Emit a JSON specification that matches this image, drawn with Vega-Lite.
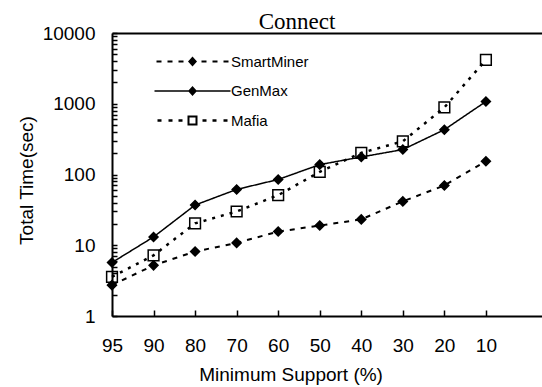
{
  "$schema": "https://vega.github.io/schema/vega-lite/v6.json",
  "width": 430,
  "height": 283,
  "autosize": {"type": "none"},
  "padding": {"left": 112, "top": 33, "right": 0, "bottom": 71},
  "title": {"text": "Connect", "font": "Liberation Serif", "fontSize": 23, "fontWeight": "normal", "color": "black", "frame": "group", "anchor": "middle", "baseline": "alphabetic", "offset": 7, "dx": -30, "dy": 35},
  "config": {
    "view": {"stroke": null},
    "font": "Liberation Sans",
    "axis": {"labelColor": "black", "titleColor": "black", "domainColor": "black", "tickColor": "black", "domainWidth": 2, "tickWidth": 1.5, "titleFontWeight": "normal"},
    "legend": {"orient": "none", "legendX": 35, "legendY": 21, "labelFontSize": 15, "labelColor": "black", "labelFont": "Liberation Sans", "symbolSize": 100, "labelOffset": 69, "rowPadding": 13.5, "title": null, "symbolOpacity": 1, "symbolFillColor": "black", "symbolStrokeWidth": 0}
  },
  "data": {"values": [
    {"support": 95, "series": "SmartMiner", "time": 2.73},
    {"support": 90, "series": "SmartMiner", "time": 5.2},
    {"support": 80, "series": "SmartMiner", "time": 8.15},
    {"support": 70, "series": "SmartMiner", "time": 10.8},
    {"support": 60, "series": "SmartMiner", "time": 15.6},
    {"support": 50, "series": "SmartMiner", "time": 19},
    {"support": 40, "series": "SmartMiner", "time": 23.2},
    {"support": 30, "series": "SmartMiner", "time": 41.7},
    {"support": 20, "series": "SmartMiner", "time": 70},
    {"support": 10, "series": "SmartMiner", "time": 154},
    {"support": 95, "series": "GenMax", "time": 5.7},
    {"support": 90, "series": "GenMax", "time": 13.1},
    {"support": 80, "series": "GenMax", "time": 37},
    {"support": 70, "series": "GenMax", "time": 61.5},
    {"support": 60, "series": "GenMax", "time": 85},
    {"support": 50, "series": "GenMax", "time": 138},
    {"support": 40, "series": "GenMax", "time": 177},
    {"support": 30, "series": "GenMax", "time": 225},
    {"support": 20, "series": "GenMax", "time": 430},
    {"support": 10, "series": "GenMax", "time": 1075},
    {"support": 95, "series": "Mafia", "time": 3.58},
    {"support": 90, "series": "Mafia", "time": 7.2},
    {"support": 80, "series": "Mafia", "time": 20.4},
    {"support": 70, "series": "Mafia", "time": 30},
    {"support": 60, "series": "Mafia", "time": 51},
    {"support": 50, "series": "Mafia", "time": 109},
    {"support": 40, "series": "Mafia", "time": 202},
    {"support": 30, "series": "Mafia", "time": 294},
    {"support": 20, "series": "Mafia", "time": 887},
    {"support": 10, "series": "Mafia", "time": 4170}
  ]},
  "encoding": {
    "x": {
      "field": "support", "type": "ordinal",
      "scale": {"type": "point", "domain": [95, 90, 80, 70, 60, 50, 40, 30, 20, 10], "padding": 0.675, "align": 0},
      "axis": {"title": "Minimum Support (%)", "labelAngle": 0, "labelFontSize": 19, "titleFontSize": 19, "tickSize": -6, "labelPadding": 26, "titleX": 178.6, "titleY": 64, "titleBaseline": "alphabetic", "titleAnchor": null, "grid": false}
    },
    "y": {
      "field": "time", "type": "quantitative",
      "scale": {"type": "log", "domain": [1, 10000], "nice": false},
      "axis": {
        "title": "Total Time(sec)",
        "values": [1,2,3,4,5,6,7,8,9,10,20,30,40,50,60,70,80,90,100,200,300,400,500,600,700,800,900,1000,2000,3000,4000,5000,6000,7000,8000,9000,10000],
        "labelExpr": "indexof([1,10,100,1000,10000], datum.value) >= 0 ? format(datum.value, 'd') : ''",
        "labelOverlap": false,
        "labelFontSize": 19,
        "titleFontSize": 19,
        "tickSize": -5,
        "labelPadding": 22,
        "titleX": -80,
        "titleY": 147,
        "titleBaseline": "alphabetic",
        "titleAnchor": null,
        "grid": true,
        "gridColor": "black",
        "gridWidth": 2,
        "gridOpacity": {"condition": {"test": "datum.value === 10000", "value": 1}, "value": 0}
      }
    }
  },
  "layer": [
    {
      "mark": {"type": "line", "color": "black"},
      "encoding": {
        "detail": {"field": "series"},
        "strokeDash": {"condition": [{"test": "datum.series === 'GenMax'", "value": [1, 0]}, {"test": "datum.series === 'Mafia'", "value": [3, 6]}], "value": [5, 6]},
        "strokeWidth": {"condition": [{"test": "datum.series === 'GenMax'", "value": 1.5}, {"test": "datum.series === 'Mafia'", "value": 2.5}], "value": 2}
      }
    },
    {
      "mark": {"type": "point", "opacity": 1, "filled": false, "stroke": "black", "strokeWidth": 1.5},
      "encoding": {
        "shape": {"condition": {"test": "datum.series === 'Mafia'", "value": "square"}, "value": "diamond"},
        "fill": {"condition": {"test": "datum.series === 'Mafia'", "value": "transparent"}, "value": "black"},
        "size": {"condition": {"test": "datum.series === 'Mafia'", "value": 115}, "value": 80}
      }
    },
    {
      "mark": {"type": "point", "filled": true, "fill": "black", "opacity": 0},
      "encoding": {
        "shape": {
          "field": "series", "type": "nominal",
          "scale": {"domain": ["SmartMiner", "GenMax", "Mafia"], "range": [
            "M0.4,-0.2L1.4,-0.2L1.4,0.2L0.4,0.2ZM2.6,-0.2L3.6,-0.2L3.6,0.2L2.6,0.2ZM4.8,-0.2L5.8,-0.2L5.8,0.2L4.8,0.2ZM6.7,0L7.6,-1L8.5,0L7.6,1ZM9.4,-0.2L10.4,-0.2L10.4,0.2L9.4,0.2ZM11.6,-0.2L12.6,-0.2L12.6,0.2L11.6,0.2ZM13.8,-0.2L14.8,-0.2L14.8,0.2L13.8,0.2Z",
            "M0,-0.15L15.2,-0.15L15.2,0.15L0,0.15ZM6.7,0L7.6,-1L8.5,0L7.6,1Z",
            "M0.6,-0.25L1.4,-0.25L1.4,0.25L0.6,0.25ZM2.8,-0.25L3.6,-0.25L3.6,0.25L2.8,0.25ZM4.8,-0.25L5.6,-0.25L5.6,0.25L4.8,0.25ZM6.6,-1L8.6,-1L8.6,1L6.6,1ZM7,-0.6L7,0.6L8.2,0.6L8.2,-0.6ZM9.6,-0.25L10.4,-0.25L10.4,0.25L9.6,0.25ZM11.6,-0.25L12.4,-0.25L12.4,0.25L11.6,0.25ZM13.8,-0.25L14.6,-0.25L14.6,0.25L13.8,0.25Z"
          ]},
          "legend": {"symbolOpacity": 1, "symbolSize": 100}
        },
        "size": {"value": 100}
      }
    }
  ]
}
